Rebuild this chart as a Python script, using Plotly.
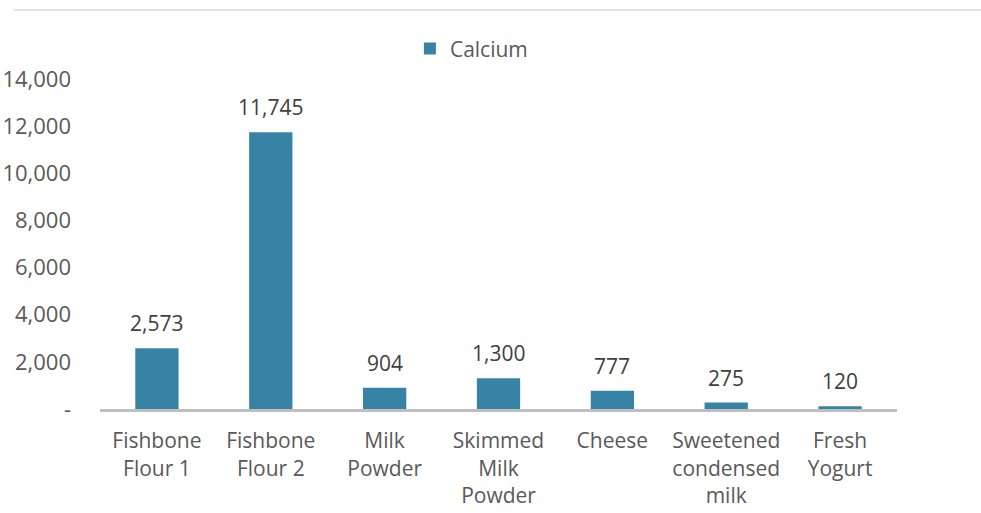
import plotly.graph_objects as go

# Calcium content per food product
categories = [
    "Fishbone<br>Flour 1",
    "Fishbone<br>Flour 2",
    "Milk<br>Powder",
    "Skimmed<br>Milk<br>Powder",
    "Cheese",
    "Sweetened<br>condensed<br>milk",
    "Fresh<br>Yogurt",
]
calcium = [2573, 11745, 904, 1300, 777, 275, 120]
series_name = "Calcium"

y_tickvals = [0, 2000, 4000, 6000, 8000, 10000, 12000, 14000]
y_ticktext = ["-", "2,000", "4,000", "6,000", "8,000", "10,000", "12,000", "14,000"]

FONT = "Open Sans"
BAR_COLOR = "#3683a6"

fig = go.Figure()
fig.add_trace(go.Bar(
    x=categories,
    y=calcium,
    name=series_name,
    marker=dict(color=BAR_COLOR, line=dict(width=0)),
    showlegend=True,
))

# value labels above each bar
for cat, val in zip(categories, calcium):
    fig.add_annotation(
        x=cat, y=val, text=f"{val:,}",
        showarrow=False, yanchor="bottom", yshift=9,
        font=dict(family=FONT, size=21, color="#404040"),
    )

# thin rule across the top of the figure
fig.add_shape(
    type="line", xref="paper", yref="paper",
    x0=-0.108, x1=1.11, y0=1.209, y1=1.209,
    line=dict(color="#d9d9d9", width=1.5),
)

fig.update_layout(
    width=981, height=513,
    margin=dict(l=100, r=84, t=79, b=104, autoexpand=False),
    paper_bgcolor="white",
    plot_bgcolor="white",
    bargap=0.62,
    font=dict(family=FONT, size=21, color="#595959"),
    legend=dict(
        orientation="h", x=0.466, xanchor="center", y=1.091, yanchor="middle",
        font=dict(family=FONT, size=21, color="#595959"),
        bgcolor="rgba(0,0,0,0)",
        itemwidth=30,
    ),
    xaxis=dict(
        showline=True, linecolor="#bfbfbf", linewidth=3,
        showgrid=False, ticks="", tickfont=dict(size=21, color="#595959"),
        ticklabelstandoff=11,
    ),
    yaxis=dict(
        range=[0, 14000], tickvals=y_tickvals, ticktext=y_ticktext,
        showgrid=False, zeroline=False, showline=False, ticks="",
        tickfont=dict(size=22, color="#595959"),
        ticklabelstandoff=28,
    ),
)

fig.write_html("out.html")
